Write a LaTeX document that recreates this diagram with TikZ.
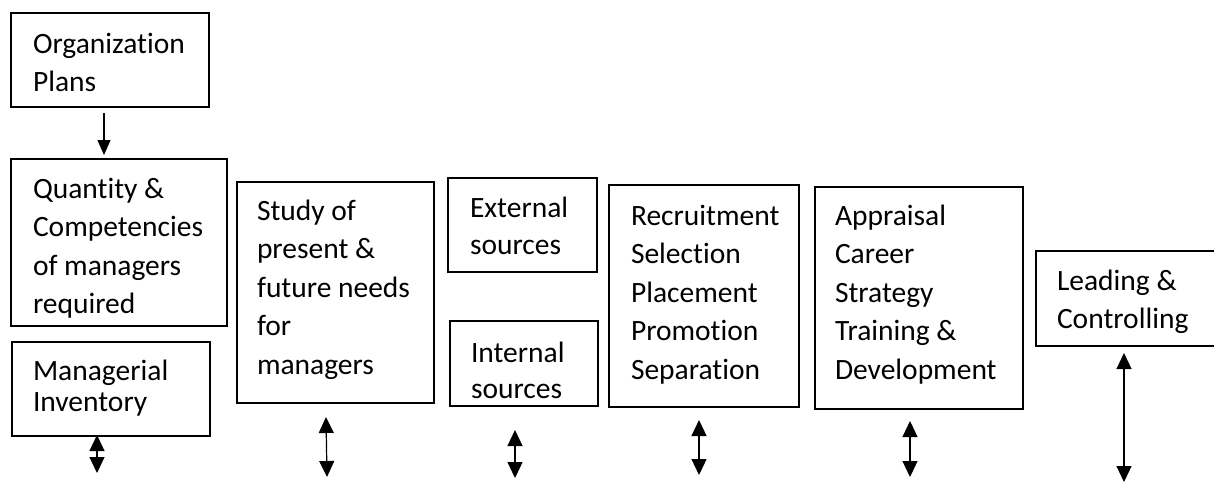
\documentclass[tikz,border=0pt]{standalone}
\usepackage{fontspec}
\setmainfont{Carlito}[Ligatures={NoCommon,NoRare}, RawFeature={-liga;-dlig;-clig}]
\usetikzlibrary{arrows.meta}
% #1 width, #2 height, #3 left pad, #4 first baseline offset, #5 line spacing, #6 lines
\newcommand{\bt}[6]{\hspace*{#3pt}\parbox[c][#2pt][t]{\dimexpr #1pt-#3pt\relax}{\fontsize{29.5pt}{#5pt}\selectfont\raggedright\rule{0pt}{#4pt}#6}}
\tikzset{
  box/.style={draw=black, line width=1.2pt, inner sep=0pt, outer sep=0pt, anchor=north west},
  arr/.style={line width=1.2pt, -{Triangle[width=13pt,length=15pt]}},
  darr/.style={line width=1.2pt, {Triangle[width=15pt,length=16pt]}-{Triangle[width=15pt,length=16pt]}}
}
\begin{document}
\begin{tikzpicture}[x=1pt,y=-1pt]
\useasboundingbox (0,0) rectangle (1214,483);
\node[box] (org)   at (11,13)   {\bt{198}{94}{22}{40}{38.5}{Organization\\Plans}};
\node[box] (qty)   at (11,159)  {\bt{216}{167}{22}{39}{38.5}{Quantity \&\\Competencies\\of managers\\required}};
\node[box] (inv)   at (12,342)  {\bt{198}{94}{21}{38}{31}{Managerial\\Inventory}};
\node[box] (study) at (237,182) {\bt{197}{221}{20}{38}{38.5}{Study of\\present \&\\future needs\\for\\managers}};
\node[box] (ext)   at (448,178) {\bt{149}{94}{22}{39}{37}{External\\sources}};
\node[box] (int)   at (450,321) {\bt{148}{85}{21}{41}{36}{Internal\\sources}};
\node[box] (rec)   at (609,185) {\bt{190}{222}{22}{40}{38.5}{Recruitment\\Selection\\Placement\\Promotion\\Separation}};
\node[box] (app)   at (815,187) {\bt{208}{222}{20}{38}{38.5}{Appraisal\\Career\\Strategy\\Training \&\\Development}};
\node[box] (lead)  at (1036,251) {\bt{180}{95}{21}{39}{38.5}{Leading \&\\Controlling}};

\coordinate (o1) at ([xshift=-6pt,yshift=-6pt]org.south);
\draw[arr, shorten >=4pt] (o1) -- (o1 |- qty.north);

\coordinate (i1) at (97,435);   \coordinate (i2) at (97,473);
\coordinate (s1) at (326,417);  \coordinate (s2) at (327,477);
\coordinate (n1) at (515,430);  \coordinate (n2) at (515,478);
\coordinate (r1) at (699,420);  \coordinate (r2) at (699,475);
\coordinate (p1) at (910,421);  \coordinate (p2) at (910,477);
\coordinate (l1) at (1124,353); \coordinate (l2) at (1124,482);
\draw[darr] (i1) -- (i2);
\draw[darr] (s1) -- (s2);
\draw[darr] (n1) -- (n2);
\draw[darr] (r1) -- (r2);
\draw[darr] (p1) -- (p2);
\draw[darr] (l1) -- (l2);
\end{tikzpicture}
\end{document}
